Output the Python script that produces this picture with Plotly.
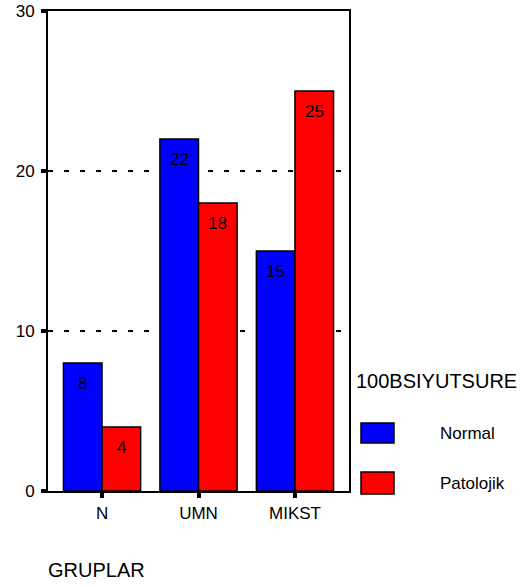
import plotly.graph_objects as go

categories = ["N", "UMN", "MIKST"]
normal_values = [8, 22, 15]
patolojik_values = [4, 18, 25]
series_names = ["Normal", "Patolojik"]
series_colors = ["#0000FF", "#FF0000"]
y_ticks = [0, 10, 20, 30]
legend_title = "100BSIYUTSURE"
x_title = "GRUPLAR"

FONT = "Arial, Liberation Sans, sans-serif"

fig = go.Figure()
all_series = [normal_values, patolojik_values]
for name, vals, col in zip(series_names, all_series, series_colors):
    fig.add_trace(go.Bar(
        x=categories, y=vals, name=name,
        marker=dict(color=col, line=dict(color="black", width=1.5)),
        showlegend=False,
    ))

# value labels inside top of each bar
bar_half_px = 19.3
for si, vals in enumerate(all_series):
    shift = -bar_half_px if si == 0 else bar_half_px
    for cat, v in zip(categories, vals):
        fig.add_annotation(x=cat, y=v, xref="x", yref="y", text=str(v), showarrow=False,
                           xshift=shift, yshift=-9, yanchor="top", xanchor="center",
                           font=dict(size=17, color="black"))

fig.update_layout(
    width=530, height=587,
    margin=dict(l=48, r=181, t=11, b=96),
    paper_bgcolor="white", plot_bgcolor="white",
    barmode="group", bargap=0.2, bargroupgap=0,
    font=dict(family=FONT, size=17, color="black"),
)
fig.update_xaxes(
    range=[-0.56, 2.56], showline=True, linecolor="black", linewidth=2, mirror=True,
    ticks="outside", ticklen=5, tickwidth=4, tickcolor="black", automargin=False,
    showgrid=False, tickfont=dict(size=17), ticklabelstandoff=1,
)
fig.update_yaxes(
    range=[0, 30], tickvals=y_ticks, showline=True, linecolor="black", linewidth=2, mirror=True,
    ticks="outside", ticklen=5, tickwidth=4, tickcolor="black", automargin=False,
    showgrid=True, gridcolor="black", gridwidth=1.5, griddash="5px,11px",
    zeroline=False, tickfont=dict(size=17), ticklabelstandoff=3,
)

# Manual legend
def px_x(p):
    return (p - 48) / 301.0

def px_y(p):
    return (491 - p) / 480.0

fig.add_annotation(x=px_x(354), y=px_y(381), xref="paper", yref="paper", text=legend_title,
                   showarrow=False, xanchor="left", yanchor="middle", font=dict(size=20))
swatch_rows = [(423, 443), (472, 494)]
for (top, bot), name, col in zip(swatch_rows, series_names, series_colors):
    fig.add_shape(type="rect", xref="paper", yref="paper", x0=px_x(361), x1=px_x(394),
                  y0=px_y(bot), y1=px_y(top), fillcolor=col, line=dict(color="black", width=1.5))
    fig.add_annotation(x=px_x(438), y=px_y((top + bot) / 2), xref="paper", yref="paper", text=name,
                       showarrow=False, xanchor="left", yanchor="middle", font=dict(size=17))

fig.add_annotation(x=px_x(46), y=px_y(570), xref="paper", yref="paper", text=x_title,
                   showarrow=False, xanchor="left", yanchor="middle", font=dict(size=20))

fig.write_html("out.html")
